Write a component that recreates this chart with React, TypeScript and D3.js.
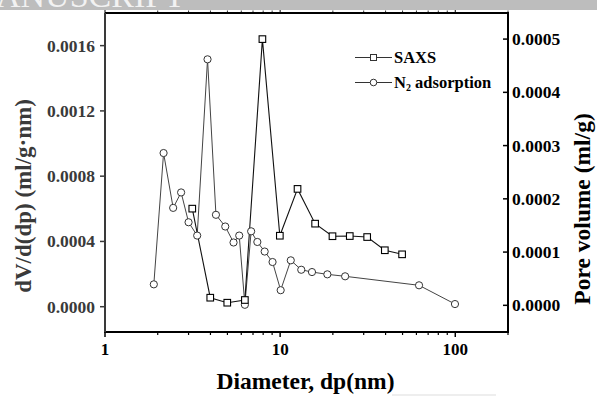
import React from "react";
import * as d3 from "d3";

// ---- data ----
const SAXS_D = [3.15, 3.99, 4.99, 6.29, 7.92, 9.96, 12.57, 15.84, 19.9, 24.98, 31.4, 39.6, 49.7];
const SAXS_V = [0.000601, 0.0000552, 0.0000245, 0.0000411, 0.00164, 0.000435, 0.000722, 0.000509, 0.000432, 0.000433, 0.000427, 0.000346, 0.000321];

const N2_D = [1.9, 2.16, 2.45, 2.72, 3.0, 3.36, 3.85, 4.3, 4.86, 5.42, 5.84, 6.29, 6.83, 7.41, 8.16, 9.05, 10.07, 11.5, 13.2, 15.2, 18.6, 23.5, 62.1, 99.6];
const N2_V = [0.0000394, 0.000286, 0.000183, 0.000212, 0.000156, 0.000131, 0.000462, 0.00017, 0.000148, 0.000118, 0.000131, 0.000001, 0.000139, 0.000119, 0.000101, 0.0000813, 0.0000284, 0.0000845, 0.0000668, 0.0000625, 0.0000582, 0.0000545, 0.0000376, 0.0000024];

const X_MAJOR = [1, 10, 100];
const X_MINOR = [2, 3, 4, 5, 6, 7, 8, 9, 20, 30, 40, 50, 60, 70, 80, 90, 200];
const YL_TICKS = [0, 0.0004, 0.0008, 0.0012, 0.0016];
const YR_TICKS = [0, 0.0001, 0.0002, 0.0003, 0.0004, 0.0005];

const LEGEND = ["SAXS", "N2 adsorption"];
const X_TITLE = "Diameter, dp(nm)";
const YL_TITLE = "dV/d(dp) (ml/g·nm)";
const YR_TITLE = "Pore volume (ml/g)";

const W = 597, H = 397;
const L = 105, R = 508, T = 13, B = 332;
const FONT = "'Liberation Serif', 'Times New Roman', serif";

export default function App() {
  const x = d3.scaleLog().domain([1, 200]).range([L, R]);
  const yL = d3.scaleLinear().domain([-0.000155, 0.0018]).range([B, T]);
  const yR = d3.scaleLinear().domain([-0.0000501, 0.000549]).range([B, T]);

  const saxs = SAXS_D.map((d, i) => [x(d), yL(SAXS_V[i])] as [number, number]);
  const n2 = N2_D.map((d, i) => [x(d), yR(N2_V[i])] as [number, number]);
  const line = d3.line();
  const sq = 6.6;
  const leftCol = "#3a3a3a";

  return (
    <svg width={W} height={H} style={{ position: "absolute", left: 0, top: 0, background: "#fff" }} fontFamily={FONT}>
      {/* header band */}
      <rect x={0} y={0} width={W} height={10} fill="#bdbdbd" />
      <clipPath id="hdr"><rect x={0} y={0} width={W} height={10} /></clipPath>
      <text x={-4} y={7} fontSize={34} fill="#f2f2f2" clipPath="url(#hdr)" fontFamily={FONT}>ANUSCRIPT</text>
      <rect x={392} y={394} width={104} height={2} fill="#eeeeee" />

      {/* frame */}
      <line x1={L} y1={T} x2={R} y2={T} stroke="#000" strokeWidth={2} />
      <line x1={L} y1={B} x2={R} y2={B} stroke="#000" strokeWidth={2} />
      <line x1={L} y1={T} x2={L} y2={B + 1} stroke={leftCol} strokeWidth={2} />
      <line x1={R} y1={T - 1} x2={R} y2={B + 1} stroke="#000" strokeWidth={2} />

      {/* x ticks */}
      {X_MAJOR.map((v) => (
        <g key={"xm" + v}>
          <line x1={x(v)} x2={x(v)} y1={B} y2={B + 5} stroke="#000" strokeWidth={1.5} />
          <line x1={x(v)} x2={x(v)} y1={T} y2={T - 3} stroke="#000" strokeWidth={1} />
          <text x={x(v)} y={355} textAnchor="middle" fontSize={17} fontWeight="bold">{v}</text>
        </g>
      ))}
      {X_MINOR.map((v) => (
        <g key={"xn" + v}>
          <line x1={x(v)} x2={x(v)} y1={B} y2={B + 3} stroke="#000" strokeWidth={1.2} />
          <line x1={x(v)} x2={x(v)} y1={T} y2={T - 2.5} stroke="#000" strokeWidth={0.8} />
        </g>
      ))}

      {/* left ticks */}
      {YL_TICKS.map((v) => (
        <g key={"yl" + v}>
          <line x1={L - 5} x2={L} y1={yL(v)} y2={yL(v)} stroke={leftCol} strokeWidth={1.5} />
          <text x={95} y={yL(v) + 6} textAnchor="end" fontSize={17.5} fontWeight="bold" fill={leftCol}>{v.toFixed(4)}</text>
        </g>
      ))}
      {/* right ticks */}
      {YR_TICKS.map((v) => (
        <g key={"yr" + v}>
          <line x1={R - 5} x2={R} y1={yR(v)} y2={yR(v)} stroke="#000" strokeWidth={1.5} />
          <text x={512} y={yR(v) + 6} textAnchor="start" fontSize={17.5} fontWeight="bold" fill="#000">{v.toFixed(4)}</text>
        </g>
      ))}

      {/* titles */}
      <text x={(L + R) / 2 - 1} y={389} textAnchor="middle" fontSize={23.5} fontWeight="bold">{X_TITLE}</text>
      <text transform={`translate(31,196) rotate(-90)`} textAnchor="middle" fontSize={23} fontWeight="bold" fill={leftCol}>{YL_TITLE}</text>
      <text transform={`translate(590,209) rotate(-90)`} textAnchor="middle" fontSize={23.5} fontWeight="bold">{YR_TITLE}</text>

      {/* series */}
      <path d={line(n2) ?? ""} fill="none" stroke="#444" strokeWidth={1} />
      <path d={line(saxs) ?? ""} fill="none" stroke="#111" strokeWidth={1.1} />
      {n2.map((p, i) => (
        <circle key={"c" + i} cx={p[0]} cy={p[1]} r={3.6} fill="#fff" stroke="#333" strokeWidth={1} />
      ))}
      {saxs.map((p, i) => (
        <rect key={"s" + i} x={p[0] - sq / 2} y={p[1] - sq / 2} width={sq} height={sq} fill="#fff" stroke="#000" strokeWidth={1.1} />
      ))}

      {/* legend */}
      <line x1={355} x2={392} y1={57.5} y2={57.5} stroke="#333" strokeWidth={1.2} />
      <rect x={373.5 - 3} y={57.5 - 3} width={6} height={6} fill="#fff" stroke="#333" strokeWidth={1} />
      <text x={394} y={62.5} fontSize={16.5} fontWeight="bold">{LEGEND[0]}</text>
      <line x1={355} x2={392} y1={82.5} y2={82.5} stroke="#333" strokeWidth={1.2} />
      <circle cx={373.5} cy={82.5} r={3.3} fill="#fff" stroke="#333" strokeWidth={1} />
      <text x={394} y={87.5} fontSize={16.5} fontWeight="bold">
        N<tspan fontSize={10} dy={3.5}>2</tspan><tspan dy={-3.5}>{" adsorption"}</tspan>
      </text>
    </svg>
  );
}
